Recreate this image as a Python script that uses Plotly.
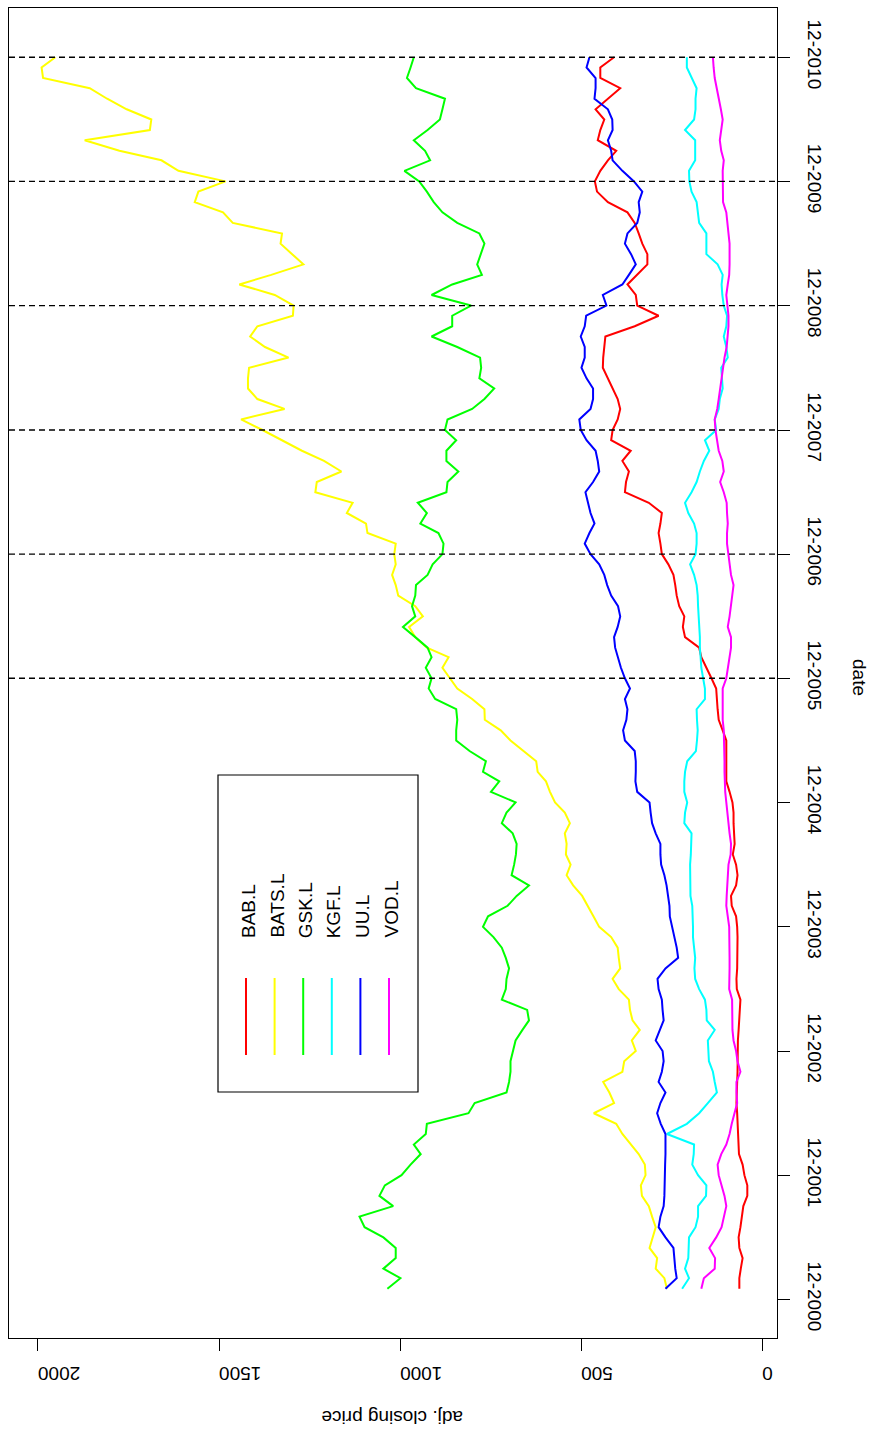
import pandas as pd
import plotly.graph_objects as go

# Monthly adjusted closing prices, Jan 2001 .. Dec 2010
dates = pd.date_range("2001-01-01", periods=120, freq="MS")

BAB_L = [63, 63, 59, 54, 63, 65, 60, 56, 52, 41,
         41, 49, 54, 64, 65, 65, 66, 69, 71, 71,
         69, 68, 68, 67, 67, 65, 64, 61, 60, 70,
         71, 69, 68, 68, 68, 69, 72, 84, 86, 72,
         68, 72, 81, 76, 78, 79, 79, 82, 90, 99,
         99, 99, 99, 99, 109, 120, 123, 124, 127, 140,
         154, 168, 174, 213, 219, 215, 229, 236, 240, 245,
         259, 277, 281, 286, 281, 277, 313, 379, 376, 368,
         386, 363, 417, 413, 399, 392, 399, 413, 426, 440,
         439, 436, 433, 352, 286, 345, 349, 372, 345, 317,
         317, 331, 341, 352, 372, 426, 456, 462, 447, 426,
         403, 454, 447, 436, 460, 426, 392, 447, 447, 409]

BATS_L = [263, 270, 294, 290, 311, 302, 294, 304, 313, 332,
          335, 322, 324, 341, 362, 386, 403, 465, 409, 422,
          439, 386, 381, 349, 360, 338, 358, 365, 368, 396,
          413, 392, 396, 399, 417, 450, 466, 481, 497, 522,
          540, 529, 542, 540, 545, 531, 545, 572, 586, 597,
          620, 624, 658, 695, 722, 766, 767, 801, 842, 862,
          883, 866, 926, 958, 975, 937, 958, 1005, 1012, 1022,
          1012, 1016, 1012, 1090, 1094, 1147, 1131, 1234, 1230, 1162,
          1210, 1271, 1326, 1380, 1439, 1319, 1394, 1420, 1420, 1417,
          1308, 1373, 1414, 1394, 1296, 1294, 1346, 1444, 1356, 1267,
          1298, 1330, 1326, 1462, 1489, 1567, 1557, 1482, 1612, 1659,
          1775, 1871, 1691, 1687, 1755, 1809, 1857, 1986, 1990, 1952]

GSK_L = [1035, 999, 1046, 1012, 1012, 1046, 1098, 1112, 1019, 1057,
         1042, 996, 971, 943, 962, 929, 926, 811, 794, 706,
         699, 695, 695, 689, 681, 662, 644, 649, 719, 708,
         706, 699, 708, 719, 742, 771, 757, 703, 678, 644,
         692, 685, 680, 678, 689, 719, 706, 681, 749, 726,
         771, 763, 808, 845, 845, 842, 845, 903, 921, 913,
         929, 913, 924, 958, 992, 958, 967, 958, 956, 924,
         910, 883, 880, 894, 944, 926, 951, 872, 869, 839,
         872, 872, 845, 876, 869, 801, 767, 740, 781, 776,
         779, 842, 913, 856, 856, 804, 913, 856, 774, 787,
         778, 767, 781, 842, 883, 907, 926, 947, 988, 917,
         931, 962, 924, 890, 883, 876, 956, 981, 971, 962]

KGF_L = [221, 202, 213, 204, 203, 202, 184, 177, 177, 155,
         154, 177, 193, 189, 188, 263, 208, 174, 150, 125,
         131, 136, 147, 149, 150, 131, 153, 154, 158, 174,
         185, 187, 185, 188, 191, 191, 191, 193, 198, 199,
         199, 199, 197, 196, 195, 215, 213, 207, 215, 215,
         213, 207, 183, 180, 178, 180, 181, 158, 158, 163,
         168, 170, 172, 172, 174, 176, 177, 178, 181, 188,
         199, 184, 181, 181, 188, 204, 213, 195, 181, 172,
         161, 146, 158, 127, 131, 120, 117, 109, 110, 113,
         95, 99, 106, 99, 97, 106, 110, 112, 109, 123,
         154, 154, 154, 174, 178, 181, 195, 201, 202, 185,
         185, 185, 213, 188, 184, 184, 181, 195, 208, 208]

UU_L = [267, 236, 240, 243, 245, 267, 286, 281, 272, 270,
        270, 270, 268, 267, 267, 267, 280, 290, 281, 267,
        286, 277, 272, 275, 294, 283, 272, 275, 277, 286,
        289, 267, 232, 236, 243, 249, 255, 256, 259, 264,
        270, 279, 281, 281, 294, 304, 308, 311, 345, 350,
        349, 349, 352, 379, 384, 375, 372, 379, 365, 379,
        390, 399, 406, 409, 399, 392, 398, 417, 428, 436,
        450, 474, 490, 477, 463, 474, 481, 488, 467, 450,
        454, 460, 485, 501, 505, 474, 467, 467, 485, 499,
        490, 490, 501, 490, 486, 430, 440, 386, 368, 349,
        362, 379, 372, 345, 338, 341, 331, 354, 386, 413,
        417, 426, 413, 414, 426, 463, 460, 460, 485, 477]

VOD_L = [168, 161, 131, 130, 146, 127, 112, 106, 99, 104,
         112, 120, 123, 113, 99, 90, 84, 76, 69, 71,
         71, 60, 68, 72, 79, 82, 82, 82, 83, 91,
         90, 90, 90, 90, 90, 91, 95, 99, 98, 97,
         95, 93, 87, 86, 90, 93, 98, 99, 102, 104,
         104, 104, 104, 104, 106, 109, 109, 109, 109, 99,
         95, 90, 86, 86, 95, 90, 86, 82, 79, 86,
         90, 93, 97, 97, 95, 97, 98, 106, 116, 106,
         110, 120, 125, 129, 131, 124, 120, 116, 113, 109,
         104, 98, 95, 93, 93, 95, 99, 95, 91, 90,
         90, 90, 93, 97, 99, 108, 109, 109, 109, 106,
         113, 117, 113, 109, 114, 120, 125, 131, 134, 136]

tickers = ["BAB.L", "BATS.L", "GSK.L", "KGF.L", "UU.L", "VOD.L"]
series = [BAB_L, BATS_L, GSK_L, KGF_L, UU_L, VOD_L]
colors = ["#FF0000", "#FFFF00", "#00FF00", "#00FFFF", "#0000FF", "#FF00FF"]

date_ticks = ["2000-12-01", "2001-12-01", "2002-12-01", "2003-12-01", "2004-12-01",
              "2005-12-01", "2006-12-01", "2007-12-01", "2008-12-01", "2009-12-01",
              "2010-12-01"]
date_labels = ["12-2000", "12-2001", "12-2002", "12-2003", "12-2004", "12-2005",
               "12-2006", "12-2007", "12-2008", "12-2009", "12-2010"]
marker_dates = ["2005-12-01", "2006-12-01", "2007-12-01", "2008-12-01",
                "2009-12-01", "2010-12-01"]
price_ticks = [0, 500, 1000, 1500, 2000]

FONT = "Liberation Sans, Arial, sans-serif"
W, H = 874, 1436
L, R, T, B = 9, 97, 8, 98

fig = go.Figure()
for name, vals, col in zip(tickers, series, colors):
    fig.add_trace(go.Scatter(x=vals, y=dates, mode="lines", name=name,
                             line=dict(color=col, width=2), showlegend=False))

# date axis padding, 4% either side of the data span
span = dates[-1] - dates[0]
y_lo = dates[0] - 0.04 * span
y_hi = dates[-1] + 0.04 * span

shapes = []
for d in marker_dates:
    shapes.append(dict(type="line", xref="paper", x0=0, x1=1, yref="y", y0=d, y1=d,
                       line=dict(color="black", width=1.3, dash="6px,4px"), layer="above"))

pw = W - L - R
ph = H - T - B


def px_x(p):
    return (p - L) / pw


def px_y(p):
    return (H - B - p) / ph


# legend box
shapes.append(dict(type="rect", xref="paper", yref="paper",
                   x0=px_x(218), x1=px_x(418), y0=px_y(1092), y1=px_y(775),
                   line=dict(color="black", width=1.2), fillcolor="white", layer="above"))

annotations = []
for i, (name, col) in enumerate(zip(tickers, colors)):
    kx = 246 + 28.6 * i
    shapes.append(dict(type="line", xref="paper", yref="paper",
                       x0=px_x(kx), x1=px_x(kx), y0=px_y(1055), y1=px_y(978),
                       line=dict(color=col, width=2), layer="above"))
    annotations.append(dict(text=name, xref="paper", yref="paper", x=px_x(kx + 2), y=px_y(940),
                            xanchor="center", yanchor="bottom", textangle=-90, showarrow=False,
                            font=dict(family=FONT, size=19, color="black")))

annotations.append(dict(text="adj. closing price", xref="paper", yref="paper",
                        x=px_x(392), y=px_y(1418), xanchor="center", yanchor="middle",
                        textangle=180, showarrow=False,
                        font=dict(family=FONT, size=19, color="black")))
annotations.append(dict(text="date", xref="paper", yref="paper",
                        x=px_x(860), y=px_y(677), xanchor="center", yanchor="middle",
                        textangle=90, showarrow=False,
                        font=dict(family=FONT, size=19, color="black")))

fig.update_layout(
    width=W, height=H,
    margin=dict(l=L, r=R, t=T, b=B),
    paper_bgcolor="white", plot_bgcolor="white",
    font=dict(family=FONT, size=19, color="black"),
    shapes=shapes, annotations=annotations,
    xaxis=dict(range=[2080, -41], tickvals=price_ticks, ticktext=[str(v) for v in price_ticks],
               tickangle=180, ticks="outside", ticklen=12, tickwidth=1, tickcolor="black",
               ticklabelstandoff=12,
               showline=True, linecolor="black", linewidth=1, mirror=True,
               showgrid=False, zeroline=False, tickfont=dict(family=FONT, size=19)),
    yaxis=dict(type="date", range=[y_lo, y_hi], side="right",
               tickvals=date_ticks, ticktext=date_labels, tickangle=90,
               ticks="outside", ticklen=12, tickwidth=1, tickcolor="black",
               ticklabelstandoff=10,
               showline=True, linecolor="black", linewidth=1, mirror=True,
               showgrid=False, zeroline=False, tickfont=dict(family=FONT, size=19)),
)

fig.write_html("out.html")
